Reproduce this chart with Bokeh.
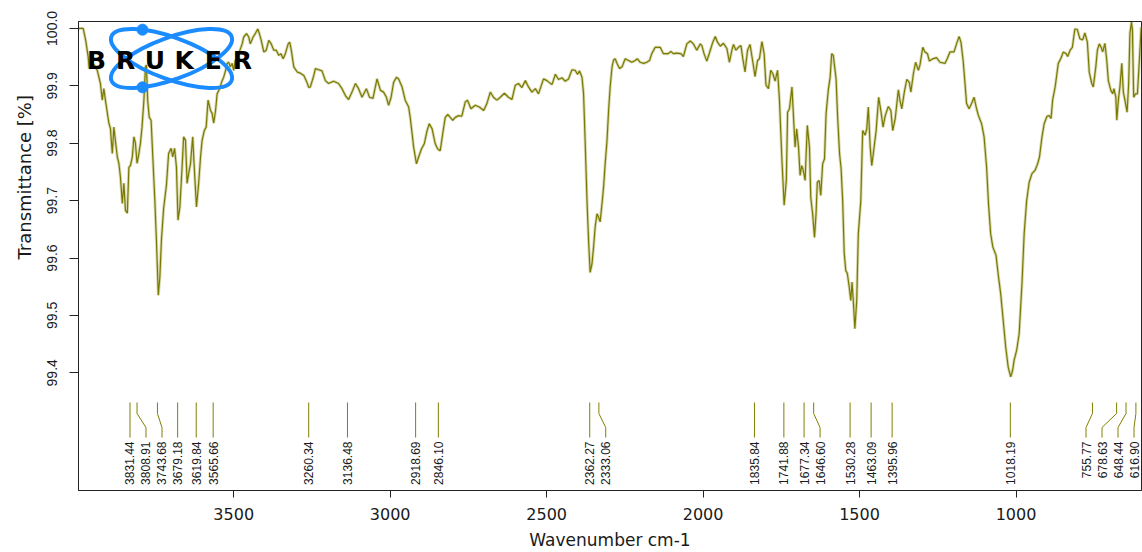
import math
from bokeh.plotting import figure
from bokeh.models import Range1d, FixedTicker, PrintfTickFormatter, Title
from bokeh.core.properties import value
from bokeh.embed import file_html
from bokeh.resources import INLINE

# ---------------- data ----------------
wavenumber = [
    3996, 3981, 3973, 3965, 3962, 3954, 3947, 3936, 3926, 3920,
    3915, 3910, 3899, 3894, 3888, 3883, 3872, 3867, 3862, 3856,
    3851, 3846, 3840, 3835, 3830, 3824, 3819, 3814, 3809, 3803,
    3798, 3793, 3787, 3782, 3779, 3775, 3770, 3764, 3757, 3752,
    3747, 3741, 3736, 3731, 3724, 3715, 3708, 3700, 3695, 3689,
    3683, 3678, 3672, 3665, 3660, 3654, 3649, 3644, 3638, 3631,
    3625, 3619, 3612, 3606, 3601, 3594, 3588, 3582, 3574, 3569,
    3564, 3558, 3553, 3545, 3537, 3532, 3526, 3521, 3516, 3511,
    3505, 3500, 3495, 3489, 3484, 3473, 3468, 3459, 3452, 3447,
    3438, 3431, 3423, 3418, 3412, 3404, 3396, 3388, 3381, 3372,
    3364, 3356, 3349, 3342, 3335, 3326, 3321, 3316, 3308, 3297,
    3287, 3276, 3266, 3260, 3255, 3244, 3239, 3228, 3218, 3207,
    3197, 3181, 3165, 3154, 3143, 3133, 3122, 3111, 3101, 3090,
    3076, 3066, 3055, 3042, 3031, 3021, 3012, 3005, 2997, 2989,
    2980, 2973, 2962, 2952, 2941, 2936, 2930, 2925, 2916, 2909,
    2900, 2891, 2882, 2875, 2866, 2856, 2848, 2840, 2832, 2824,
    2816, 2808, 2800, 2792, 2781, 2771, 2760, 2753, 2742, 2728,
    2715, 2701, 2691, 2680, 2670, 2659, 2648, 2635, 2622, 2611,
    2600, 2590, 2579, 2568, 2558, 2547, 2536, 2526, 2510, 2499,
    2483, 2472, 2462, 2451, 2441, 2430, 2419, 2409, 2401, 2395,
    2387, 2382, 2377, 2371, 2366, 2361, 2355, 2350, 2345, 2339,
    2334, 2329, 2323, 2318, 2313, 2307, 2302, 2297, 2291, 2286,
    2281, 2275, 2267, 2259, 2249, 2238, 2228, 2217, 2210, 2201,
    2190, 2180, 2171, 2164, 2153, 2137, 2127, 2111, 2103, 2095,
    2084, 2071, 2063, 2052, 2041, 2031, 2020, 2009, 2004, 1997,
    1988, 1977, 1969, 1961, 1954, 1945, 1935, 1924, 1916, 1908,
    1903, 1895, 1887, 1879, 1873, 1866, 1858, 1850, 1841, 1834,
    1826, 1820, 1812, 1805, 1799, 1791, 1784, 1777, 1770, 1762,
    1756, 1748, 1741, 1734, 1730, 1724, 1716, 1711, 1706, 1701,
    1695, 1690, 1685, 1680, 1674, 1667, 1660, 1656, 1650, 1644,
    1639, 1635, 1629, 1624, 1618, 1612, 1607, 1600, 1594, 1589,
    1584, 1575, 1570, 1564, 1559, 1554, 1549, 1544, 1539, 1533,
    1528, 1524, 1520, 1515, 1509, 1504, 1496, 1490, 1482, 1477,
    1472, 1466, 1461, 1456, 1447, 1439, 1432, 1425, 1418, 1408,
    1400, 1394, 1386, 1376, 1371, 1365, 1357, 1349, 1341, 1336,
    1328, 1321, 1312, 1307, 1298, 1291, 1283, 1277, 1266, 1254,
    1243, 1227, 1220, 1211, 1198, 1190, 1182, 1176, 1169, 1163,
    1158, 1150, 1142, 1134, 1126, 1120, 1110, 1102, 1094, 1088,
    1081, 1074, 1064, 1056, 1049, 1040, 1033, 1025, 1017, 1011,
    1006, 998, 990, 981, 974, 966, 958, 949, 939, 931,
    925, 917, 910, 901, 894, 888, 883, 875, 870, 865,
    857, 849, 840, 835, 827, 820, 812, 804, 796, 787,
    780, 772, 766, 758, 753, 745, 740, 734, 728, 723,
    716, 710, 705, 697, 691, 687, 681, 678, 673, 668,
    662, 657, 650, 645, 640, 636, 631, 628, 624, 618,
    612, 607, 600,
]

transmittance = [
    100.000, 100.000, 99.979, 99.950, 99.930, 99.933, 99.937, 99.927, 99.904, 99.875,
    99.895, 99.875, 99.835, 99.826, 99.782, 99.828, 99.776, 99.765, 99.741, 99.695,
    99.730, 99.683, 99.678, 99.758, 99.761, 99.776, 99.811, 99.800, 99.765, 99.782,
    99.800, 99.828, 99.875, 99.933, 99.936, 99.875, 99.845, 99.840, 99.758, 99.700,
    99.631, 99.535, 99.567, 99.631, 99.686, 99.727, 99.782, 99.791, 99.776, 99.791,
    99.758, 99.666, 99.689, 99.758, 99.811, 99.805, 99.730, 99.747, 99.765, 99.811,
    99.747, 99.689, 99.730, 99.776, 99.805, 99.822, 99.828, 99.875, 99.857, 99.852,
    99.835, 99.857, 99.886, 99.895, 99.909, 99.915, 99.927, 99.939, 99.941, 99.933,
    99.939, 99.927, 99.944, 99.947, 99.956, 99.973, 99.985, 99.991, 99.985, 99.973,
    99.985, 99.991, 99.999, 99.991, 99.979, 99.959, 99.962, 99.979, 99.974, 99.962,
    99.962, 99.953, 99.956, 99.947, 99.956, 99.973, 99.976, 99.962, 99.933, 99.924,
    99.922, 99.918, 99.906, 99.897, 99.898, 99.918, 99.930, 99.928, 99.926, 99.909,
    99.904, 99.908, 99.904, 99.895, 99.883, 99.876, 99.889, 99.904, 99.895, 99.880,
    99.895, 99.880, 99.878, 99.912, 99.892, 99.889, 99.880, 99.866, 99.880, 99.906,
    99.915, 99.912, 99.898, 99.875, 99.863, 99.845, 99.817, 99.793, 99.764, 99.776,
    99.790, 99.799, 99.822, 99.834, 99.825, 99.799, 99.790, 99.787, 99.817, 99.845,
    99.850, 99.845, 99.840, 99.845, 99.848, 99.847, 99.872, 99.875, 99.860, 99.866,
    99.863, 99.857, 99.869, 99.889, 99.880, 99.875, 99.880, 99.887, 99.880, 99.876,
    99.901, 99.904, 99.897, 99.909, 99.898, 99.889, 99.895, 99.886, 99.912, 99.909,
    99.902, 99.920, 99.911, 99.914, 99.908, 99.912, 99.928, 99.927, 99.920, 99.926,
    99.915, 99.886, 99.805, 99.700, 99.631, 99.575, 99.590, 99.619, 99.654, 99.677,
    99.671, 99.663, 99.695, 99.724, 99.764, 99.805, 99.857, 99.898, 99.933, 99.945,
    99.947, 99.939, 99.930, 99.933, 99.947, 99.944, 99.941, 99.944, 99.947, 99.941,
    99.939, 99.941, 99.944, 99.956, 99.967, 99.967, 99.956, 99.956, 99.960, 99.956,
    99.957, 99.956, 99.951, 99.973, 99.978, 99.973, 99.962, 99.973, 99.970, 99.956,
    99.943, 99.962, 99.976, 99.986, 99.976, 99.969, 99.974, 99.965, 99.941, 99.962,
    99.972, 99.962, 99.967, 99.970, 99.947, 99.924, 99.962, 99.972, 99.941, 99.916,
    99.944, 99.947, 99.977, 99.956, 99.901, 99.895, 99.927, 99.921, 99.908, 99.927,
    99.875, 99.770, 99.692, 99.735, 99.854, 99.860, 99.898, 99.845, 99.793, 99.825,
    99.793, 99.744, 99.761, 99.753, 99.735, 99.831, 99.793, 99.706, 99.677, 99.636,
    99.677, 99.732, 99.735, 99.709, 99.764, 99.773, 99.851, 99.892, 99.915, 99.956,
    99.953, 99.912, 99.845, 99.782, 99.756, 99.700, 99.608, 99.578, 99.573, 99.549,
    99.526, 99.558, 99.526, 99.477, 99.526, 99.642, 99.700, 99.822, 99.814, 99.825,
    99.863, 99.793, 99.761, 99.782, 99.822, 99.880, 99.857, 99.828, 99.848, 99.864,
    99.857, 99.822, 99.843, 99.893, 99.875, 99.860, 99.889, 99.911, 99.906, 99.889,
    99.921, 99.941, 99.927, 99.936, 99.967, 99.959, 99.956, 99.943, 99.947, 99.949,
    99.941, 99.939, 99.947, 99.959, 99.959, 99.973, 99.986, 99.976, 99.944, 99.904,
    99.869, 99.860, 99.869, 99.880, 99.860, 99.848, 99.834, 99.811, 99.758, 99.695,
    99.642, 99.619, 99.605, 99.567, 99.538, 99.486, 99.445, 99.410, 99.393, 99.404,
    99.422, 99.439, 99.468, 99.555, 99.642, 99.700, 99.732, 99.747, 99.753, 99.764,
    99.776, 99.811, 99.834, 99.847, 99.848, 99.843, 99.875, 99.898, 99.918, 99.939,
    99.947, 99.959, 99.956, 99.951, 99.962, 99.967, 99.999, 99.998, 99.982, 99.980,
    99.992, 99.976, 99.924, 99.904, 99.898, 99.933, 99.962, 99.973, 99.967, 99.959,
    99.974, 99.944, 99.909, 99.892, 99.886, 99.895, 99.880, 99.840, 99.875, 99.898,
    99.939, 99.889, 99.869, 99.854, 99.904, 99.991, 100.011, 99.997, 99.880, 99.886,
    99.886, 99.933, 100.002,
]
assert len(wavenumber) == len(transmittance)

peak_wavenumbers = [
    3831.44, 3808.91, 3743.68, 3679.18, 3619.84, 3565.66, 3260.34, 3136.48,
    2918.69, 2846.10, 2362.27, 2333.06, 1835.84, 1741.88, 1677.34, 1646.60,
    1530.28, 1463.09, 1395.96, 1018.19, 755.77, 678.63, 648.44, 616.90,
]
peak_labels = [f"{w:.2f}" for w in peak_wavenumbers]

x_ticks = [3500, 3000, 2500, 2000, 1500, 1000]
y_ticks = [99.4, 99.5, 99.6, 99.7, 99.8, 99.9, 100.0]

x_title = "Wavenumber cm-1"
y_title = "Transmittance [%]"
logo_text = "BRUKER"

# ---------------- layout ----------------
X_START, X_END = 3996.0, 599.0
Y_TOP, Y_BOT = 100.012, 99.195
FRAME_LEFT, FRAME_TOP = 78, 21      # canvas pixels
FIG_W, FIG_H = 1142, 552
FRAME_RIGHT, FRAME_BOTTOM = 1141, 490
FRAME_W = FRAME_RIGHT - FRAME_LEFT
FRAME_H = FRAME_BOTTOM - FRAME_TOP

def wn_at(px):
    return X_START - (px - FRAME_LEFT) * (X_START - X_END) / FRAME_W

def t_at(py):
    return Y_TOP - (py - FRAME_TOP) * (Y_TOP - Y_BOT) / FRAME_H

OLIVE = "#808000"
TEXT = "#1a1a1a"
BLUE = "#1a8cff"

p = figure(width=FIG_W, height=FIG_H,
           x_range=Range1d(X_START, X_END), y_range=Range1d(Y_BOT, Y_TOP),
           output_backend="svg", toolbar_location=None,
           min_border_left=FRAME_LEFT, min_border_right=FIG_W - FRAME_RIGHT,
           min_border_top=FRAME_TOP, min_border_bottom=FIG_H - FRAME_BOTTOM)
p.background_fill_color = "white"
p.border_fill_color = "white"
p.outline_line_color = "#222222"
p.outline_line_width = 1
p.xgrid.visible = False
p.ygrid.visible = False

# x axis
xa = p.xaxis[0]
xa.ticker = FixedTicker(ticks=x_ticks, minor_ticks=[])
xa.major_tick_out = 7
xa.major_tick_in = 0
xa.minor_tick_out = 0
xa.minor_tick_in = 0
xa.axis_line_color = "#222222"
xa.major_tick_line_color = "#222222"
xa.major_label_standoff = 10
xa.major_label_text_font = "DejaVu Sans"
xa.major_label_text_font_size = "16px"
xa.major_label_text_color = TEXT
xa.axis_label = x_title
xa.axis_label_text_font = "DejaVu Sans"
xa.axis_label_text_font_size = "17px"
xa.axis_label_text_font_style = "normal"
xa.axis_label_text_color = TEXT
xa.axis_label_standoff = 7

# y axis
ya = p.yaxis[0]
ya.ticker = FixedTicker(ticks=y_ticks, minor_ticks=[])
ya.formatter = PrintfTickFormatter(format="%.1f")
ya.major_label_orientation = "vertical"
ya.major_tick_out = 9
ya.major_tick_in = 0
ya.minor_tick_out = 0
ya.minor_tick_in = 0
ya.axis_line_color = "#222222"
ya.major_tick_line_color = "#222222"
ya.major_label_standoff = 12
ya.major_label_text_font = "Liberation Sans"
ya.major_label_text_font_size = "14px"
ya.major_label_text_color = TEXT

# y title: bottom end at ~259 px, i.e. above the frame centre as in the reference
p.add_layout(Title(text=y_title, align="left", vertical_align="top",
                   offset=FRAME_BOTTOM - 259,
                   standoff=16,
                   text_font="DejaVu Sans", text_font_size="18px",
                   text_font_style="normal", text_color=TEXT), "left")

# spectrum
p.line(wavenumber, transmittance, line_color=OLIVE, line_width=3, line_alpha=0.3)
p.line(wavenumber, transmittance, line_color="#7a7a00", line_width=1.2)

# peak label placement (labels at least 16 px apart, inside the frame)
gap = 16 * (X_START - X_END) / FRAME_W
right_limit = wn_at(FRAME_RIGHT - 7.5)
order = sorted(range(len(peak_wavenumbers)), key=lambda i: -peak_wavenumbers[i])
pos = {}
prev = None
for i in order:
    w = peak_wavenumbers[i]
    if prev is not None:
        w = min(w, prev - gap)
    pos[i] = w
    prev = w
nxt = None
for i in reversed(order):
    w = pos[i]
    w = max(w, right_limit) if nxt is None else max(w, nxt + gap)
    pos[i] = w
    nxt = w

y_top_l, y_k1, y_k2, y_bot_l = t_at(402), t_at(413), t_at(427), t_at(437)
xs, ys = [], []
for i, w in enumerate(peak_wavenumbers):
    lp = pos[i]
    if abs(lp - w) < 0.1 * gap:
        xs.append([w, w]); ys.append([y_top_l, y_bot_l])
    else:
        xs.append([w, w, lp, lp]); ys.append([y_top_l, y_k1, y_k2, y_bot_l])
p.multi_line(xs, ys, line_color=OLIVE, line_width=1)

p.text(x=[pos[i] for i in range(len(peak_wavenumbers))],
       y=[t_at(441)] * len(peak_wavenumbers),
       text=peak_labels, angle=math.pi / 2,
       text_align="right", text_baseline="middle",
       text_font=value("Liberation Sans"), text_font_size="12px",
       text_color=TEXT)

# Bruker logo: two crossed, tilted ellipses with two dots
LCX, LCY = 171, 58           # logo centre, canvas px
EA, EB, ETH = 64, 21, math.radians(20)
p.ellipse(x=[wn_at(LCX)] * 2, y=[t_at(LCY)] * 2, width=[2 * EA] * 2, height=[2 * EB] * 2,
          angle=[ETH, -ETH], width_units="screen", height_units="screen",
          fill_color=None, line_color=BLUE, line_width=4)

def ellipse_edge_y(px, top):
    # ellipse whose left end is raised (screen y down); find its edge at px
    best = None
    for k in range(3600):
        t = 2 * math.pi * k / 3600
        ex = EA * math.cos(t) * math.cos(ETH) - EB * math.sin(t) * math.sin(ETH)
        ey = EA * math.cos(t) * math.sin(ETH) + EB * math.sin(t) * math.cos(ETH)
        if not top:
            ey = -ey
        if abs(LCX + ex - px) < 0.6:
            yy = LCY + ey
            if best is None or (top and yy < best) or (not top and yy > best):
                best = yy
    return best

dot_px = 142
p.scatter(x=[wn_at(dot_px)] * 2,
          y=[t_at(ellipse_edge_y(dot_px, True)), t_at(ellipse_edge_y(dot_px, False))],
          size=11, color=BLUE)

letters = list(logo_text)
p.text(x=[wn_at(96.0 + 29.2 * k) for k in range(len(letters))],
       y=[t_at(60)] * len(letters), text=letters,
       text_align="center", text_baseline="middle",
       text_font=value("DejaVu Sans"), text_font_style="bold",
       text_font_size="25px", text_color="black")

open("out.html", "w").write(file_html(p, INLINE))
